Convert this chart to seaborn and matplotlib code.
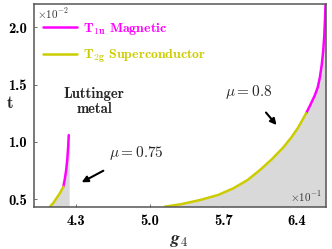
import matplotlib
matplotlib.use("Agg")
import matplotlib.pyplot as plt
import seaborn as sns

# mu = 0.75 branch (g4 in units of 1e-1, t in units of 1e-2)
g_075_sc = [4.049, 4.080, 4.110, 4.145, 4.176]
t_075_sc = [0.433, 0.465, 0.505, 0.553, 0.607]
g_075_mag = [4.176, 4.190, 4.203, 4.214, 4.222, 4.228]
t_075_mag = [0.607, 0.672, 0.750, 0.845, 0.950, 1.058]

# mu = 0.8 branch
g_08_sc = [5.144, 5.300, 5.478, 5.650, 5.795, 5.930, 6.049, 6.160, 6.271, 6.350, 6.414, 6.490]
t_08_sc = [0.433, 0.455, 0.491, 0.535, 0.593, 0.665, 0.753, 0.845, 0.950, 1.040, 1.125, 1.250]
g_08_mag = [6.490, 6.526, 6.572, 6.600, 6.620, 6.638, 6.652, 6.662, 6.669, 6.675]
t_08_mag = [1.250, 1.315, 1.405, 1.475, 1.560, 1.670, 1.790, 1.920, 2.060, 2.209]

x_ticks = [4.3, 5.0, 5.7, 6.4]
y_ticks = [0.5, 1.0, 1.5, 2.0]

MAG = "#ff00ff"
SC = "#cccc00"
FILL = "#d9d9d9"

sns.set_theme(style="white")
plt.rcParams["font.family"] = ["cmb10", "DejaVu Serif"]
plt.rcParams["mathtext.fontset"] = "cm"
plt.rcParams["axes.unicode_minus"] = False

fig = plt.figure(figsize=(3.32, 2.49), dpi=100)
ax = fig.add_axes([0.1015, 0.17, 0.8795, 0.814])

xmin, xmax = 3.894, 6.676
ymin, ymax = 0.433, 2.204

# shaded regions
ax.fill_betweenx(t_075_sc + t_075_mag[1:], g_075_sc + g_075_mag[1:], 4.232,
                 color=FILL, lw=0, zorder=1)
ax.fill_betweenx(t_08_sc + t_08_mag[1:], g_08_sc + g_08_mag[1:], xmax,
                 color=FILL, lw=0, zorder=1)

sns.lineplot(x=g_075_mag, y=t_075_mag, color=MAG, lw=1.8, ax=ax,
             label=r"T$_{\mathbf{1u}}$ Magnetic", zorder=3)
sns.lineplot(x=g_075_sc, y=t_075_sc, color=SC, lw=1.8, ax=ax,
             label=r"T$_{\mathbf{2g}}$ Superconductor", zorder=3)
sns.lineplot(x=g_08_mag, y=t_08_mag, color=MAG, lw=1.8, ax=ax, zorder=3)
sns.lineplot(x=g_08_sc, y=t_08_sc, color=SC, lw=1.8, ax=ax, zorder=3)

ax.set_xlim(xmin, xmax)
ax.set_ylim(ymin, ymax)
ax.set_xticks(x_ticks)
ax.set_xticklabels([f"{v:.1f}" for v in x_ticks])
ax.set_yticks(y_ticks)
ax.set_yticklabels([f"{v:.1f}" for v in y_ticks])
ax.tick_params(direction="in", length=2, width=0.6, colors="#555555",
               labelcolor="black", labelsize=10.5, pad=5, bottom=True, left=True)

for s in ax.spines.values():
    s.set_color("#555555")
    s.set_linewidth(1.1)
    s.set_zorder(5)

ax.set_xlabel(r"$\boldsymbol{g}_4$", fontsize=13, labelpad=4)
ax.set_ylabel("t", fontsize=12, rotation=0)
ax.yaxis.set_label_coords(-0.08, 0.47)

ax.text(0.012, 0.99, r"$\times10^{-2}$", transform=ax.transAxes,
        ha="left", va="top", fontsize=8, color="#333333")
ax.text(0.985, 0.012, r"$\times10^{-1}$", transform=ax.transAxes,
        ha="right", va="bottom", fontsize=8, color="#333333")

ax.text(4.47, 1.35, "Luttinger\nmetal", ha="center", va="center",
        fontsize=10.5, linespacing=1.05)

ax.annotate(r"$\mu = 0.75$", xy=(4.351, 0.646), xytext=(4.87, 0.90),
            ha="center", va="center", fontsize=11,
            arrowprops=dict(arrowstyle="-|>", color="black", lw=1.5,
                            mutation_scale=9, shrinkA=8, shrinkB=0))
ax.annotate(r"$\mu = 0.8$", xy=(6.208, 1.146), xytext=(5.94, 1.437),
            ha="center", va="center", fontsize=11,
            arrowprops=dict(arrowstyle="-|>", color="black", lw=1.5,
                            mutation_scale=9, shrinkA=8, shrinkB=0))

leg = ax.legend(loc="upper left", bbox_to_anchor=(0.0, 0.965), frameon=False,
                fontsize=10, handlelength=2.4, handletextpad=0.45,
                labelspacing=0.8, borderaxespad=0.3, labelcolor="linecolor")
for line in leg.get_lines():
    line.set_linewidth(1.8)

fig.savefig("out.png", dpi=100)
